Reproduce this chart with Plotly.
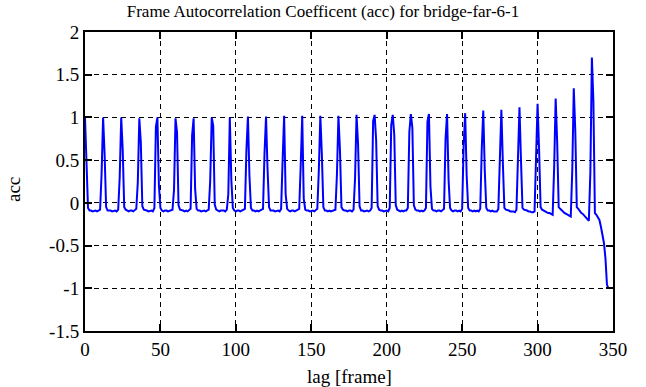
import plotly.graph_objects as go

# Frame autocorrelation coefficient, one row per 12-frame period (lags 0..347)
acc = [
    1.00, 0.53, -0.06, -0.09, -0.09, -0.10, -0.09, -0.09, -0.10, -0.09, -0.08, 0.34,
    1.00, 0.57, -0.05, -0.09, -0.09, -0.09, -0.10, -0.09, -0.09, -0.10, -0.08, 0.30,
    1.00, 0.62, -0.05, -0.08, -0.09, -0.10, -0.09, -0.09, -0.10, -0.09, -0.07, 0.24,
    0.99, 0.71, -0.04, -0.08, -0.09, -0.09, -0.10, -0.09, -0.09, -0.10, -0.06, 0.89,
    1.00, 0.20, -0.06, -0.09, -0.10, -0.09, -0.09, -0.10, -0.09, -0.09, -0.08, 0.15,
    0.99, 0.83, -0.03, -0.08, -0.09, -0.09, -0.10, -0.09, -0.10, -0.09, -0.07, 0.79,
    0.99, 0.16, -0.07, -0.09, -0.09, -0.10, -0.09, -0.09, -0.10, -0.09, -0.08, 0.26,
    1.00, 0.90, -0.02, -0.08, -0.09, -0.10, -0.09, -0.09, -0.09, -0.10, -0.08, 0.10,
    1.00, 0.27, -0.06, -0.09, -0.10, -0.09, -0.09, -0.10, -0.09, -0.09, -0.07, 0.62,
    1.01, 0.32, -0.06, -0.09, -0.09, -0.10, -0.09, -0.10, -0.09, -0.09, -0.07, 0.58,
    1.01, 0.40, -0.05, -0.09, -0.09, -0.09, -0.10, -0.09, -0.09, -0.10, -0.07, 0.50,
    1.02, 0.10, -0.07, -0.09, -0.10, -0.09, -0.09, -0.10, -0.09, -0.09, -0.07, 0.45,
    1.02, 0.05, -0.08, -0.09, -0.09, -0.10, -0.09, -0.09, -0.10, -0.09, -0.07, 0.38,
    1.02, 0.57, -0.05, -0.09, -0.09, -0.10, -0.09, -0.10, -0.09, -0.09, -0.08, 0.33,
    1.02, 0.62, -0.05, -0.08, -0.09, -0.09, -0.10, -0.09, -0.09, -0.10, -0.08, 0.28,
    1.03, 0.69, -0.04, -0.09, -0.09, -0.10, -0.09, -0.09, -0.10, -0.09, -0.06, 0.96,
    1.03, 0.73, -0.04, -0.08, -0.09, -0.09, -0.10, -0.09, -0.09, -0.10, -0.06, 0.91,
    1.03, 0.80, -0.03, -0.08, -0.09, -0.10, -0.09, -0.10, -0.09, -0.09, -0.06, 0.83,
    1.04, 0.88, -0.03, -0.08, -0.09, -0.09, -0.10, -0.09, -0.10, -0.09, -0.06, 0.95,
    1.04, 0.19, -0.07, -0.09, -0.09, -0.10, -0.09, -0.09, -0.10, -0.09, -0.07, 0.75,
    1.04, 0.27, -0.06, -0.09, -0.10, -0.09, -0.09, -0.10, -0.09, -0.10, -0.07, 0.67,
    1.05, 0.32, -0.06, -0.09, -0.09, -0.10, -0.09, -0.10, -0.09, -0.10, -0.07, 0.63,
    1.08, 0.38, -0.06, -0.09, -0.09, -0.10, -0.09, -0.10, -0.10, -0.10, -0.07, 0.55,
    1.09, 0.46, -0.06, -0.08, -0.09, -0.09, -0.10, -0.10, -0.10, -0.11, -0.08, 0.52,
    1.12, 0.50, -0.06, -0.08, -0.09, -0.09, -0.10, -0.10, -0.11, -0.11, -0.10, 0.48,
    1.16, 0.63, -0.05, -0.08, -0.09, -0.10, -0.11, -0.12, -0.12, -0.13, -0.14, 0.42,
    1.22, 0.71, -0.05, -0.07, -0.09, -0.11, -0.12, -0.13, -0.14, -0.15, -0.16, 0.38,
    1.34, 0.84, -0.05, -0.07, -0.10, -0.12, -0.13, -0.15, -0.16, -0.18, -0.21, 0.36,
    1.70, 1.19, -0.12, -0.14, -0.17, -0.20, -0.28, -0.37, -0.47, -0.65, -0.96, -1.00,
]
lag = list(range(len(acc)))

x_ticks = [0, 50, 100, 150, 200, 250, 300, 350]
y_ticks = [-1.5, -1, -0.5, 0, 0.5, 1, 1.5, 2]
y_tick_text = ["-1.5", "-1", "-0.5", "0", "0.5", "1", "1.5", "2"]

title_text = "Frame Autocorrelation Coefficent (acc) for bridge-far-6-1"
x_title = "lag [frame]"
y_title = "acc"

FONT = "Liberation Serif"
W, H = 646, 387
ML, MR, MT, MB = 85, 33, 32, 56
PW, PH = W - ML - MR, H - MT - MB

fig = go.Figure()
fig.add_trace(go.Scatter(
    x=lag, y=acc, mode="lines",
    line=dict(color="#0000ff", width=2),
    showlegend=False,
))

axis_common = dict(
    automargin=False,
    showline=True, linecolor="black", linewidth=2,
    mirror="ticks", ticks="inside", ticklen=7, tickwidth=1.5, tickcolor="black",
    showgrid=True, gridcolor="black", gridwidth=1, griddash="5px,4px",
    zeroline=False,
    tickfont=dict(family=FONT, size=19, color="black"),
)

fig.update_xaxes(
    range=[0, 350], tickmode="array", tickvals=x_ticks,
    ticklabelstandoff=0,
    **axis_common,
)
fig.update_yaxes(
    range=[-1.5, 2], tickmode="array", tickvals=y_ticks, ticktext=y_tick_text,
    ticklabelstandoff=0,
    **axis_common,
)

fig.add_annotation(
    text=x_title, xref="paper", yref="paper", x=0.5,
    y=-(377 - (H - MB)) / PH, yanchor="middle", xanchor="center",
    showarrow=False, font=dict(family=FONT, size=19, color="black"),
)
fig.add_annotation(
    text=y_title, xref="paper", yref="paper",
    x=-(ML - 13) / PW, y=((H - MB) - 190) / PH, xanchor="center", yanchor="middle",
    textangle=-90, showarrow=False, font=dict(family=FONT, size=19, color="black"),
)

fig.update_layout(
    width=W, height=H,
    font=dict(family=FONT, color="black"),
    margin=dict(l=ML, r=MR, t=MT, b=MB, pad=0),
    paper_bgcolor="white", plot_bgcolor="white",
    title=dict(text=title_text, x=0.5, xref="container", xanchor="center",
               y=1 - 11 / H, yref="container", yanchor="middle",
               font=dict(family=FONT, size=17, color="black")),
)

fig.write_html("out.html", config={"displayModeBar": False},
               post_script="document.body.style.margin='0';")
